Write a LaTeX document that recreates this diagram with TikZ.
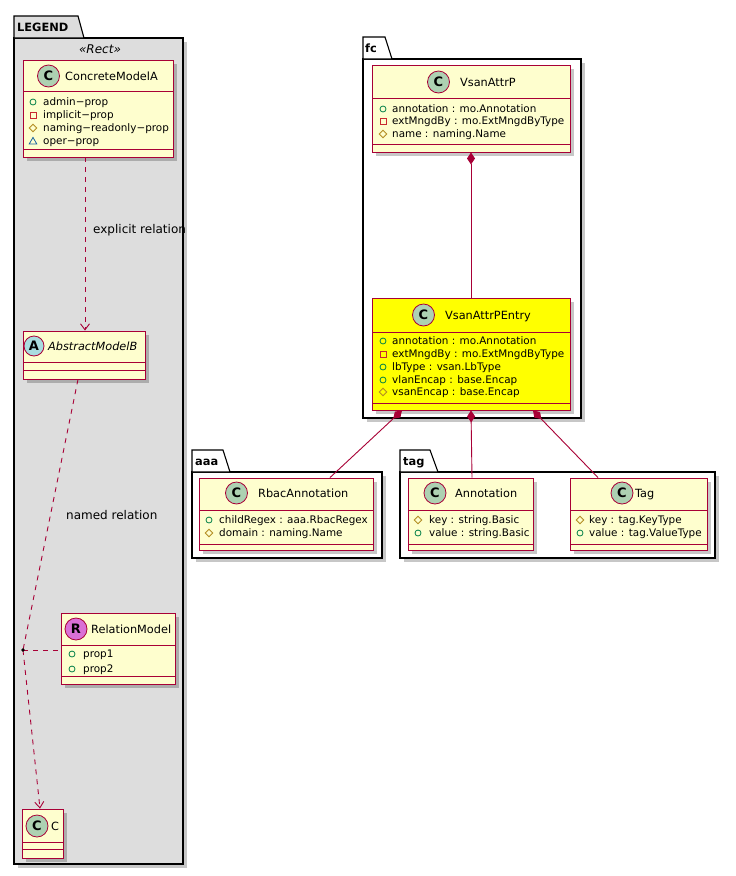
\documentclass[tikz,border=0pt]{standalone}
\usepackage{fontspec}
\setmainfont{DejaVu Sans}
\usetikzlibrary{arrows.meta,shadows,fit,calc}
\definecolor{umlborder}{HTML}{A80036}
\definecolor{umlfill}{HTML}{FEFECE}
\definecolor{circC}{HTML}{ADD1B2}
\definecolor{circA}{HTML}{A9DCDF}
\definecolor{circR}{HTML}{DA70D6}
\definecolor{legendgray}{HTML}{DDDDDD}
\definecolor{pubg}{HTML}{038048}
\definecolor{privr}{HTML}{C82930}
\definecolor{protg}{HTML}{B38D22}
\definecolor{pkgb}{HTML}{1963A0}
\definecolor{hl}{HTML}{FFFF00}
\tikzset{
  shad/.style={drop shadow={shadow xshift=4pt, shadow yshift=-4pt, opacity=0.22, fill=black}},
  classbox/.style={draw=umlborder, line width=0.9pt, inner sep=0pt, shad},
  sepline/.style={draw=umlborder, line width=0.9pt},
  pkgbody/.style={draw=black, line width=1.1pt, inner sep=0pt, shad},
  pkgtab/.style={draw=black, line width=1.1pt},
  pkglabel/.style={anchor=west, inner sep=0pt, text height=8.3pt, text depth=0pt, font=\fontsize{11.4}{13}\selectfont\bfseries},
  cname/.style={anchor=west, inner sep=0pt, text height=8.2pt, text depth=0pt, font=\fontsize{11.3}{13}\selectfont},
  attr/.style={anchor=west, inner sep=0pt, text height=7.6pt, text depth=0pt, font=\fontsize{10.4}{12}\selectfont},
  rlabel/.style={anchor=west, inner sep=0pt, text height=8.7pt, text depth=0pt, font=\fontsize{12}{14}\selectfont},
  spot/.style={circle, draw=umlborder, line width=0.8pt, minimum size=22pt, inner sep=0pt, font=\fontsize{13}{13}\selectfont\bfseries},
  dep/.style={draw=umlborder, line width=0.9pt, dash pattern=on 5pt off 5pt, -{Straight Barb[length=6pt,width=9pt]}},
  rel/.style={draw=umlborder, line width=0.9pt, dash pattern=on 5pt off 5pt},
  comp/.style={draw=umlborder, line width=0.9pt, {Diamond[length=12pt,width=8pt,fill=umlborder]}-},
  vis/.style={line width=0.8pt},
}
\newcommand\umlclass[8]{%
  \node[classbox, fill=#8, fit={(#2,#3) (#4,#5)}] (#1) {};
  \draw[sepline] (#2,#6) -- (#4,#6);
  \draw[sepline] (#2,#7) -- (#4,#7);
}
\newcommand\vpub[2]{\draw[vis, pubg] (#1,#2) circle (3pt);}
\newcommand\vpriv[2]{\draw[vis, privr] ([shift={(-3pt,-3pt)}]#1,#2) rectangle ++(6pt,6pt);}
\newcommand\vprot[2]{\draw[vis, protg] ([shift={(0,3.8pt)}]#1,#2) -- ++(3.8pt,-3.8pt) -- ++(-3.8pt,-3.8pt) -- ++(-3.8pt,3.8pt) -- cycle;}
\newcommand\vpkg[2]{\draw[vis, pkgb] ([shift={(0,3.6pt)}]#1,#2) -- ++(3.8pt,-6.6pt) -- ++(-7.6pt,0) -- cycle;}
\begin{document}
\begin{tikzpicture}[x=1pt,y=-1pt]
\useasboundingbox (0,0) rectangle (736,876);
\fill[white] (0,0) rectangle (736,876);

% ---------------- packages ----------------
\node[pkgbody, fill=legendgray, fit={(14,38) (183,864)}] (pkglegend) {};
\draw[pkgtab, fill=legendgray] (14,38) -- (14,16) -- (78,16) -- (84,38) -- cycle;
\node[pkglabel] (lblLegend) at (17,27) {LEGEND};
\node[inner sep=0pt, font=\fontsize{12}{14}\selectfont\itshape] (stereo) at (100,49) {«Rect»};

\node[pkgbody, fill=white, fit={(363,59) (581,418)}] (pkgfc) {};
\draw[pkgtab, fill=white] (363,59) -- (363,37) -- (385,37) -- (392,59) -- cycle;
\node[pkglabel] (lblfc) at (365,48) {fc};

\node[pkgbody, fill=white, fit={(192,472) (382,558)}] (pkgaaa) {};
\draw[pkgtab, fill=white] (192,472) -- (192,450) -- (223,450) -- (230,472) -- cycle;
\node[pkglabel] (lblaaa) at (195,461) {aaa};

\node[pkgbody, fill=white, fit={(400,472) (715,558)}] (pkgtag) {};
\draw[pkgtab, fill=white] (400,472) -- (400,450) -- (430,450) -- (438,472) -- cycle;
\node[pkglabel] (lbltag) at (403,461) {tag};

% ---------------- legend classes ----------------
\umlclass{concrete}{23}{60}{173}{157}{91}{149}{umlfill}
\node[spot, fill=circC] (sc1) at (48.5,76) {C};
\node[cname] (nc1) at (65,76) {ConcreteModelA};
\vpub{33}{102} \node[attr] (a11) at (43,102) {admin−prop};
\vpriv{33}{115} \node[attr] (a12) at (43,115) {implicit−prop};
\vprot{33}{128} \node[attr] (a13) at (43,128) {naming−readonly−prop};
\vpkg{33}{141} \node[attr] (a14) at (43,141) {oper−prop};

\umlclass{abstract}{23}{331}{145}{379}{362}{370}{umlfill}
\node[spot, fill=circA, minimum size=20pt] (sc2) at (34,346) {A};
\node[cname, font=\fontsize{11.3}{13}\selectfont\itshape] (nc2) at (48,346) {AbstractModelB};

\umlclass{relmodel}{61}{613}{175}{684}{645}{676}{umlfill}
\node[spot, fill=circR] (sc3) at (76,629) {R};
\node[cname] (nc3) at (91,629) {RelationModel};
\vpub{72}{654} \node[attr] (a31) at (83,654) {prop1};
\vpub{72}{669} \node[attr] (a32) at (83,669) {prop2};

\umlclass{cclass}{22}{809}{63}{858}{842}{849}{umlfill}
\node[spot, fill=circC] (sc4) at (37,826) {C};
\node[cname] (nc4) at (51,826) {C};

% legend relations
\draw[dep] ([xshift=-13pt]concrete.south) -- ([xshift=1pt]abstract.north);
\node[rlabel] (lblexp) at (93,229) {explicit relation};
\coordinate (rp) at (23,650);
\draw[rel] ([xshift=-6pt]abstract.south) -- (rp);
\draw[dep] (rp) -- ([xshift=-2.5pt]cclass.north);
\draw[rel] (rp) -- (rp -| relmodel.west);
\fill (rp) circle (1.8pt);
\node[rlabel] (lblnamed) at (66,515) {named relation};

% ---------------- fc ----------------
\umlclass{vsan}{372}{65}{570}{152}{98}{144}{umlfill}
\node[spot, fill=circC] (sc5) at (438.5,82) {C};
\node[cname] (nc5) at (460,82) {VsanAttrP};
\vpub{383}{109} \node[attr] (a51) at (392,109) {annotation : mo.Annotation};
\vpriv{383}{121} \node[attr] (a52) at (392,121) {extMngdBy : mo.ExtMngdByType};
\vprot{383}{134} \node[attr] (a53) at (392,134) {name : naming.Name};

\umlclass{entry}{372}{298}{570}{410}{332}{403}{hl}
\node[spot, fill=circC] (sc6) at (423.5,315) {C};
\node[cname] (nc6) at (445,315) {VsanAttrPEntry};
\vpub{383}{341} \node[attr] (a61) at (392,341) {annotation : mo.Annotation};
\vpriv{383}{354} \node[attr] (a62) at (392,354) {extMngdBy : mo.ExtMngdByType};
\vpub{383}{367} \node[attr] (a63) at (392,367) {lbType : vsan.LbType};
\vpub{383}{380} \node[attr] (a64) at (392,380) {vlanEncap : base.Encap};
\vprot{383}{392} \node[attr] (a65) at (392,392) {vsanEncap : base.Encap};

% ---------------- aaa ----------------
\umlclass{rbac}{199}{478}{373}{550}{510}{544}{umlfill}
\node[spot, fill=circC] (sc7) at (236.5,493) {C};
\node[cname] (nc7) at (258,493) {RbacAnnotation};
\vpub{209}{520} \node[attr] (a71) at (219,520) {childRegex : aaa.RbacRegex};
\vprot{209}{533} \node[attr] (a72) at (219,533) {domain : naming.Name};

% ---------------- tag ----------------
\umlclass{annot}{408}{478}{533}{550}{510}{544}{umlfill}
\node[spot, fill=circC] (sc8) at (435,493) {C};
\node[cname] (nc8) at (455,493) {Annotation};
\vprot{418}{520} \node[attr] (a81) at (429,520) {key : string.Basic};
\vpub{418}{533} \node[attr] (a82) at (429,533) {value : string.Basic};

\umlclass{tagc}{570}{478}{707}{550}{510}{544}{umlfill}
\node[spot, fill=circC] (sc9) at (622,493) {C};
\node[cname] (nc9) at (635,493) {Tag};
\vprot{580}{520} \node[attr] (a91) at (589,520) {key : tag.KeyType};
\vpub{580}{533} \node[attr] (a92) at (589,533) {value : tag.ValueType};

% ---------------- compositions ----------------
\draw[comp] (vsan.south) -- (entry.north);
\draw[comp] ([xshift=-69pt]entry.south) -- ([xshift=44pt]rbac.north);
\draw[comp] (entry.south) -- ([xshift=1.5pt]annot.north);
\draw[comp] ([xshift=62pt]entry.south) -- ([xshift=-40.5pt]tagc.north);
\end{tikzpicture}
\end{document}
